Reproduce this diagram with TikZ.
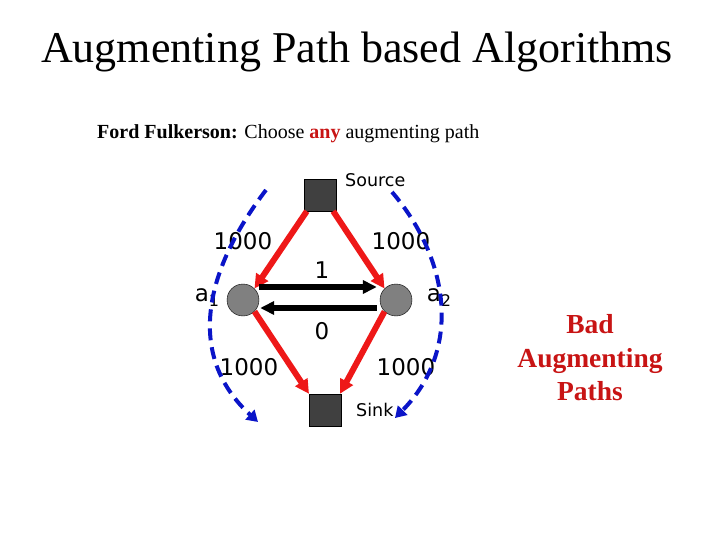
\documentclass[tikz,border=0pt]{standalone}
\usepackage{fontspec}
\setmainfont{Liberation Serif}
\newfontfamily\diagfont{DejaVu Sans}
\usetikzlibrary{arrows.meta}
\definecolor{redarrow}{RGB}{238,24,24}
\definecolor{bluedash}{RGB}{10,20,200}
\definecolor{darkred}{RGB}{200,20,20}
\definecolor{nodegray}{RGB}{128,128,128}
\definecolor{sqgray}{RGB}{64,64,64}
\tikzset{
  sq/.style={draw=black, fill=sqgray, minimum size=32pt, inner sep=0pt},
  circ/.style={circle, draw=black, fill=nodegray, minimum size=32pt, inner sep=0pt},
  redarr/.style={draw=redarrow, line width=6pt, -{Triangle[length=14pt,width=14pt]}},
  blackarr/.style={draw=black, line width=5.5pt, -{Triangle[length=14pt,width=13pt]}},
  bluepath/.style={draw=bluedash, line width=4pt, dash pattern=on 12pt off 7pt, -{Triangle[length=11pt,width=13pt]}},
  lbl/.style={font=\diagfont\fontsize{23}{26}\selectfont, inner sep=0pt},
  small/.style={font=\diagfont\fontsize{17.5}{20}\selectfont, inner sep=0pt},
}
\begin{document}
\begin{tikzpicture}[x=1pt,y=-1pt]
\useasboundingbox (0,0) rectangle (720,540);
\node[font=\fontsize{44}{50}\selectfont, inner sep=0pt] (title) at (357,52) {Augmenting Path based Algorithms};
\node[font=\fontsize{20}{24}\selectfont, inner sep=0pt, anchor=west] (ff) at (97,134) {\textbf{Ford Fulkerson:} Choose \textcolor{darkred}{\textbf{any}} augmenting path};
\node[font=\fontsize{27.5}{33.5}\selectfont\bfseries, text=darkred, align=center, inner sep=0pt] (bad) at (590,358) {Bad\\Augmenting\\Paths};

\node[sq] (src) at (320,195) {};
\node[sq] (snk) at (325,410) {};
\node[circ] (a1) at (243,300) {};
\node[circ] (a2) at (396,300) {};

\node[small, anchor=west] (srcl) at (345,180) {Source};
\node[small, anchor=west] (snkl) at (356,410) {Sink};
\node[lbl] (l1) at (243,241) {1000};
\node[lbl] (l2) at (401,241) {1000};
\node[lbl] (l3) at (249,367) {1000};
\node[lbl] (l4) at (406,367) {1000};
\node[lbl] (one) at (322,270) {1};
\node[lbl] (zero) at (322,331) {0};
\node[lbl] (a1l) at (207,298) {a\raisebox{-5pt}{\fontsize{16}{18}\selectfont 1}};
\node[lbl] (a2l) at (439,298) {a\raisebox{-5pt}{\fontsize{16}{18}\selectfont 2}};

\draw[redarr] ([xshift=3pt]src.south west) -- (a1.north east);
\draw[redarr] ([xshift=-3pt]src.south east) -- (a2.north west);
\draw[redarr] (a1.south east) -- ([xshift=-16pt]snk.north);
\draw[redarr] (a2.south west) -- ([xshift=15pt]snk.north);

\draw[blackarr] ([yshift=13pt]a1.east) -- ([yshift=13pt,xshift=-3pt]a2.west);
\draw[blackarr] ([yshift=-8pt,xshift=-3pt]a2.west) -- ([yshift=-8pt,xshift=1pt]a1.east);

\coordinate (b1s) at (266,190);
\coordinate (b1e) at (258,422);
\coordinate (b2s) at (392,192);
\coordinate (b2e) at (395,418);
\draw[bluepath] (b1s) .. controls (205,270) and (185,355) .. (b1e);
\draw[bluepath] (b2s) .. controls (450,260) and (462,350) .. (b2e);
\end{tikzpicture}
\end{document}
